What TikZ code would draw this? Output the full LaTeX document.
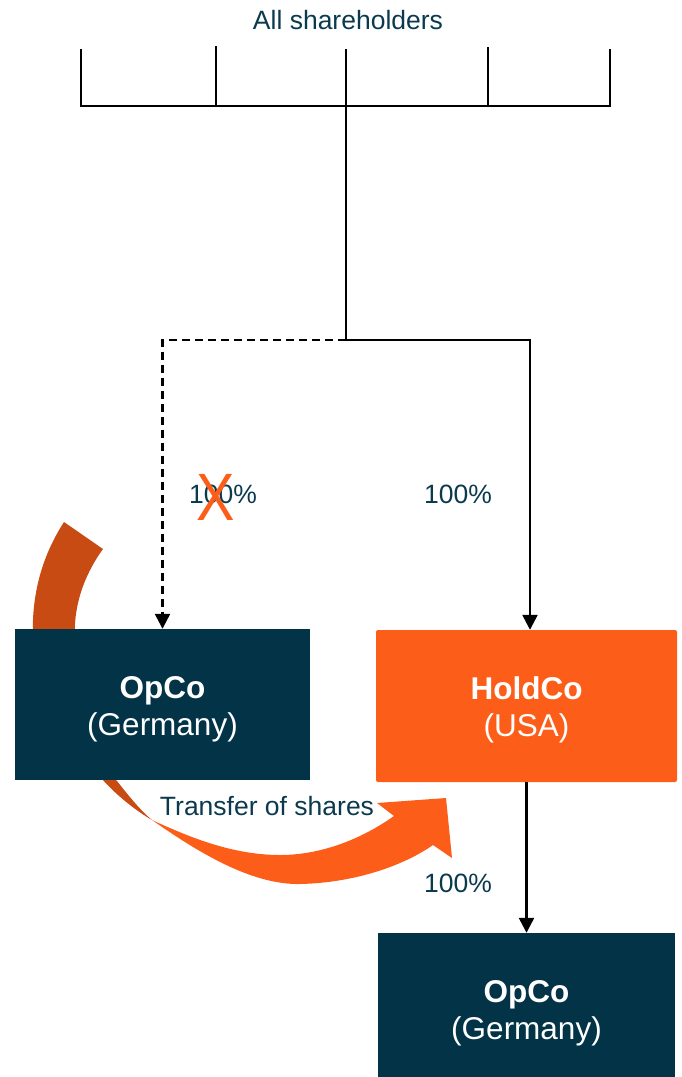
\documentclass[tikz,border=0pt]{standalone}
\usepackage{fontspec}
\setmainfont{Liberation Sans}
\usetikzlibrary{arrows.meta}
\definecolor{navy}{HTML}{033347}
\definecolor{brandorange}{HTML}{FC5E1A}
\definecolor{backorange}{HTML}{C84B14}
\definecolor{labeltext}{HTML}{0B3A4F}
\begin{document}
\begin{tikzpicture}[x=1pt,y=-1pt,
  entity/.style={rectangle, inner sep=0pt, minimum width=#1},
  entitytext/.style={text=white, align=center, inner sep=0pt,
    font=\fontsize{31.5}{37}\selectfont},
  link/.style={line width=2.4pt, black},
  tip/.style={-{Triangle[width=15pt,length=15pt]}},
  pct/.style={text=labeltext, inner sep=0pt, font=\fontsize{26.5}{30}\selectfont}]
\useasboundingbox (0,0) rectangle (682,1077);

% curved transfer arrow: shaded back part, then bright front part
\fill[backorange] (64,522) -- (103,549)
  .. controls (82,578) and (73,610) .. (75,640) -- (105,770) -- (117,781)
  .. controls (128,795) and (140,810) .. (152,820)
  .. controls (138,812) and (118,797) .. (102,779) -- (45,700) -- (33,640)
  .. controls (31,595) and (42,556) .. (64,522) -- cycle;
\fill[brandorange] (152,820)
  .. controls (195,850) and (250,885) .. (300,884)
  .. controls (350,883) and (400,868) .. (433,845)
  -- (452,858) -- (446,798) -- (377,803) -- (394,816)
  .. controls (360,840) and (320,855) .. (280,855)
  .. controls (230,855) and (185,835) .. (152,820) -- cycle;

% entities
\node[entity=295pt, minimum height=151pt, fill=navy] (op1) at (162.5,704.5) {};
\node[entitytext, yshift=-4.5pt] (op1t) at (op1.center) {\textbf{OpCo}\\(Germany)};
\node[entity=301pt, minimum height=152pt, fill=brandorange, rounded corners=2pt] (hold) at (526.5,706) {};
\node[entitytext, yshift=-3.5pt] (holdt) at (hold.center) {\textbf{HoldCo}\\(USA)};
\node[entity=297pt, minimum height=151pt, fill=navy] (op2) at (526.5,1008.5) {};
\node[entitytext, yshift=-4.5pt] (op2t) at (op2.center) {\textbf{OpCo}\\(Germany)};

% shareholder comb
\node[pct] (sh) at (348,20) {All shareholders};
\coordinate (c1) at (81,49);
\coordinate (c2) at (216,46);
\coordinate (c3) at (346,49);
\coordinate (c4) at (488,47);
\coordinate (c5) at (610,49);
\coordinate (b1) at (81,106);
\coordinate (b5) at (610,106);
\coordinate (j) at (346,340);
\draw[link] (c1) -- (b1) -- (b5) -- (c5);
\draw[link] (c2) -- (c2 |- b1);
\draw[link] (c4) -- (c4 |- b1);
\draw[link] (c3) -- (j);

% ownership links
\draw[link, tip, dash pattern=on 8pt off 5pt] (j) -| (op1.north);
\draw[link, tip] (j) -| ([xshift=3.5pt]hold.north);
\draw[link, tip] (hold.south) -- (op2.north);

% labels
\node[pct] (p1) at (223,494.5) {100\%};
\node[text=brandorange, inner sep=0pt, font=\fontsize{67}{67}\selectfont] (cross) at (216,497.5) {\scalebox{0.86}[1]{X}};
\node[pct] (p2) at (458,494.5) {100\%};
\node[pct] (p3) at (458,883) {100\%};
\node[pct] (tr) at (267,806.5) {Transfer of shares};
\end{tikzpicture}
\end{document}
